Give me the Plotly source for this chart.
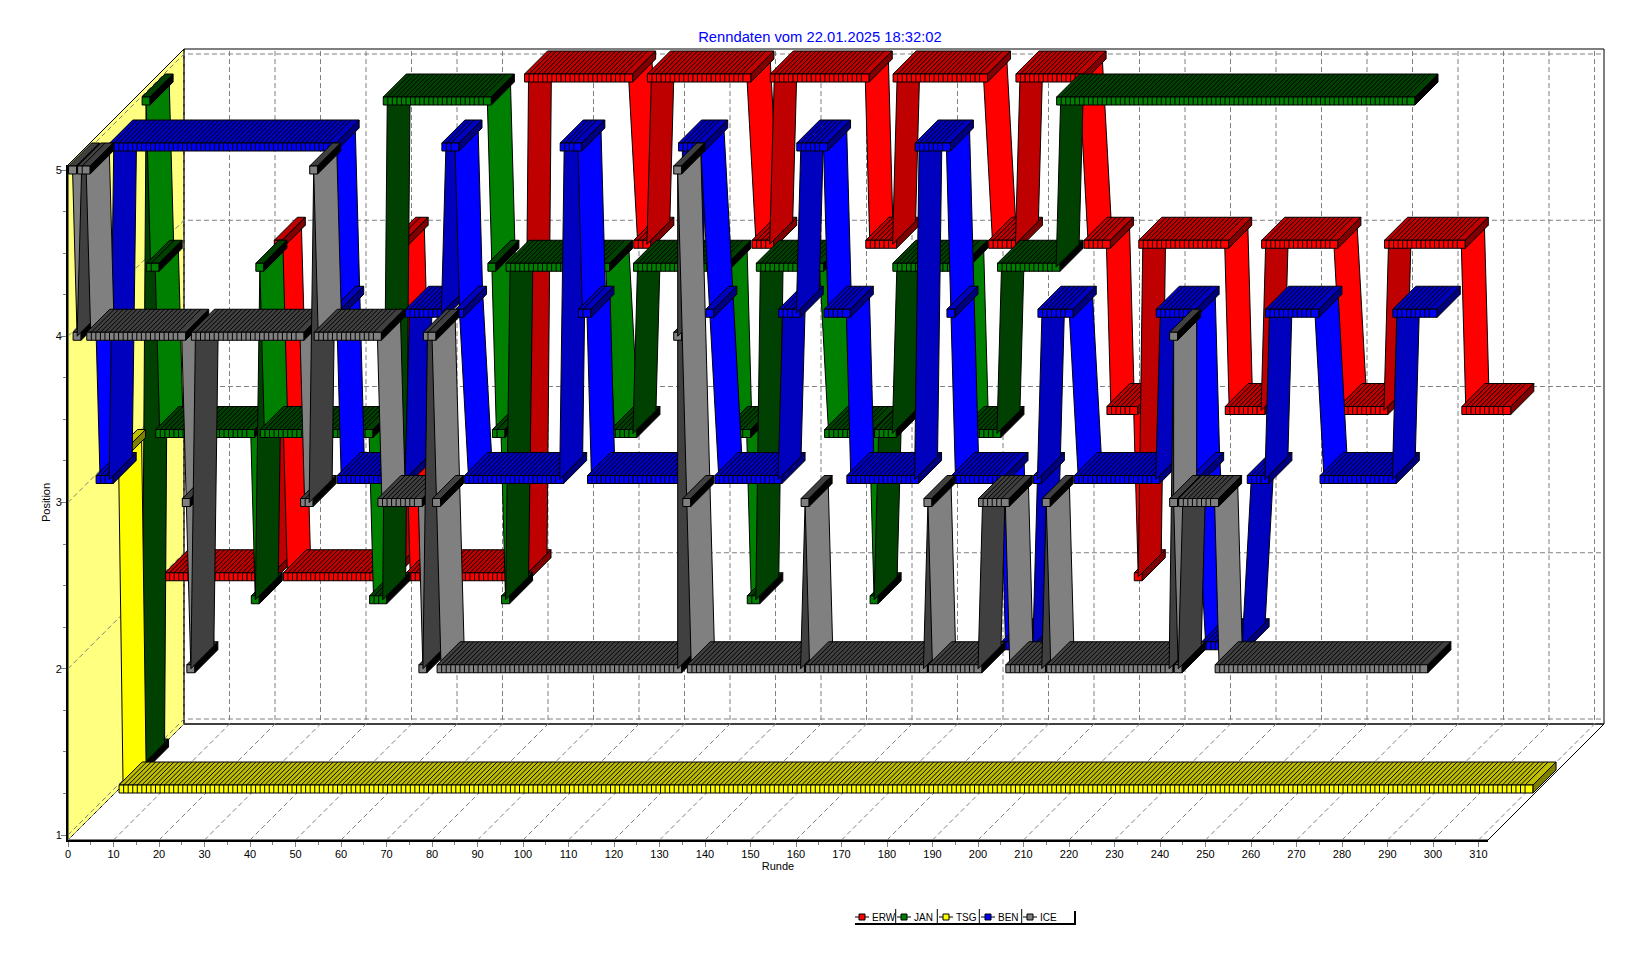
import plotly.graph_objects as go

# ---------- data: each run is (first lap, last lap, position) ----------
ERW_FROM = [2, 25, 26, 28, 51, 52, 55, 81, 105, 108, 131, 135, 156, 162, 183, 189, 204, 209, 215, 216, 235, 243, 260, 270, 287]
ERW_TO   = [24, 25, 26, 50, 51, 53, 80, 103, 107, 129, 134, 155, 161, 181, 188, 202, 208, 214, 215, 234, 242, 258, 269, 286, 296]
ERW_POS  = [2, 3, 4, 2, 3, 4, 2, 5, 4, 5, 4, 5, 4, 5, 4, 5, 4, 3, 2, 4, 3, 4, 3, 4, 3]

JAN_FROM = [1, 2, 3, 5, 26, 27, 28, 52, 55, 78, 79, 81, 82, 105, 110, 130, 135, 137, 152, 162, 163, 167, 182, 190, 203]
JAN_TO   = [1, 2, 4, 25, 26, 27, 51, 54, 77, 78, 80, 81, 103, 109, 129, 134, 136, 150, 161, 162, 166, 181, 189, 202, 280]
JAN_POS  = [1, 5, 4, 3, 2, 4, 3, 2, 5, 4, 3, 2, 4, 3, 4, 3, 2, 4, 3, 2, 3, 4, 3, 4, 5]

TSG_FROM = [1, 2]
TSG_TO   = [1, 311]
TSG_POS  = [3, 1]

BEN_FROM = [1, 2, 5, 54, 55, 70, 78, 81, 83, 104, 108, 110, 130, 136, 138, 152, 156, 162, 167, 182, 189, 190, 201, 208, 209, 217, 235, 243, 245, 255, 259, 271, 287]
BEN_TO   = [1, 4, 53, 54, 69, 77, 80, 81, 103, 107, 109, 129, 134, 136, 151, 155, 161, 166, 181, 188, 189, 200, 207, 208, 215, 234, 242, 243, 253, 258, 269, 286, 295]
BEN_POS  = [4, 3, 5, 4, 3, 4, 5, 4, 3, 5, 4, 3, 5, 4, 3, 4, 5, 4, 3, 5, 4, 3, 2, 3, 4, 3, 4, 3, 2, 3, 4, 3, 4]

ICE_FROM = [1, 2, 3, 5, 26, 27, 28, 52, 54, 55, 69, 78, 79, 81, 82, 134, 134, 136, 137, 162, 163, 189, 190, 201, 207, 215, 216, 243, 243, 244, 245, 253]
ICE_TO   = [1, 2, 4, 25, 26, 27, 51, 53, 54, 68, 77, 78, 80, 81, 134, 134, 134, 136, 161, 162, 188, 189, 200, 206, 214, 215, 242, 243, 243, 244, 252, 298]
ICE_POS  = [5, 4, 5, 4, 3, 2, 4, 3, 5, 4, 3, 2, 4, 3, 2, 4, 5, 3, 2, 3, 2, 3, 2, 3, 2, 3, 2, 4, 3, 2, 3, 2]

SERIES_NAMES = ["ERW", "JAN", "TSG", "BEN", "ICE"]
TITLE = "Renndaten vom 22.01.2025 18:32:02"
X_TITLE = "Runde"
Y_TITLE = "Position"

# ---------- styling ----------
SERIES = {
    "ERW": (ERW_FROM, ERW_TO, ERW_POS, (255, 0, 0), 92),
    "JAN": (JAN_FROM, JAN_TO, JAN_POS, (0, 128, 0), 69),
    "TSG": (TSG_FROM, TSG_TO, TSG_POS, (255, 255, 0), 46),
    "BEN": (BEN_FROM, BEN_TO, BEN_POS, (0, 0, 255), 23),
    "ICE": (ICE_FROM, ICE_TO, ICE_POS, (128, 128, 128), 0),
}
PX_LAP, PX_POS = 4.55, 166.25       # pixels per lap / per position
WALL_DEPTH = 116                    # oblique depth of the box, px
SLOT = 23                           # depth of a ribbon, px
HALF = 4                            # half size of a point marker, px
W, H = 1640, 955
ML, MT, MB = 68, 40, 115            # margins of the whole drawing area
MR = 30
AREA_W, AREA_H = W - ML - MR, H - MT - MB
FRONT_W, FRONT_H = 1420, 675        # size of the front plane holding the visible axes
X_MAX = FRONT_W / PX_LAP
Y_MIN = 1 - 5 / PX_POS
Y_MAX = Y_MIN + FRONT_H / PX_POS
GRID = "#808080"


def shade(rgb, amount):
    return "rgb(%d,%d,%d)" % tuple(max(c - amount, 0) for c in rgb)


def pt(lap, pos, off=0, dx=0, dy=0):
    """Data coordinates of a value, moved by depth `off` and by dx/dy screen pixels."""
    return lap + (off + dx) / PX_LAP, pos + (off - dy) / PX_POS


def poly(points):
    xs = [p[0] for p in points] + [points[0][0]]
    ys = [p[1] for p in points] + [points[0][1]]
    return xs, ys


def fill_trace(xs, ys, color, name, lw=1.0):
    return go.Scatter(x=xs, y=ys, xaxis="x2", yaxis="y2", mode="lines", fill="toself", fillcolor=color,
                      line=dict(color="#000000", width=lw), name=name,
                      showlegend=False, hoverinfo="skip")


def line_trace(xs, ys, color="#000000", width=1.0, dash="solid", name=""):
    return go.Scatter(x=xs, y=ys, xaxis="x2", yaxis="y2", mode="lines",
                      line=dict(color=color, width=width, dash=dash),
                      name=name, showlegend=False, hoverinfo="skip", connectgaps=False)


# the visible axes need a trace of their own to be laid out
traces = [go.Scatter(x=[0], y=[1], mode="lines", showlegend=False, hoverinfo="skip")]

# ---------- walls ----------
d = WALL_DEPTH
wx, wy = poly([pt(0, Y_MIN), pt(0, Y_MIN, d), pt(0, Y_MAX, d), pt(0, Y_MAX)])
traces.append(fill_trace(wx, wy, "#FFFF80", "wall"))
fx, fy = poly([pt(0, Y_MIN, d), pt(X_MAX, Y_MIN, d), pt(X_MAX, Y_MAX, d), pt(0, Y_MAX, d)])
traces.append(line_trace(fx, fy, name="back"))
flx, fly = poly([pt(0, Y_MIN), pt(X_MAX, Y_MIN), pt(X_MAX, Y_MIN, d), pt(0, Y_MIN, d)])
traces.append(line_trace(flx, fly, name="floor"))

# ---------- dashed grid on the walls ----------
gx, gy = [], []
for lap in range(0, 311, 10):
    a, b, c = pt(lap, Y_MIN), pt(lap, Y_MIN, d), pt(lap, Y_MAX, d)
    gx += [a[0], b[0], c[0], None]
    gy += [a[1], b[1], c[1], None]
for p in range(1, 6):
    a, b, c = pt(0, p), pt(0, p, d), pt(X_MAX, p, d)
    gx += [a[0], b[0], c[0], None]
    gy += [a[1], b[1], c[1], None]
traces.append(line_trace(gx, gy, GRID, 1, "5px,3px", "grid"))


# ---------- series, back to front ----------
def add_series(name):
    first, last, pos, rgb, off = SERIES[name]
    base, top_c, side_c = shade(rgb, 0), shade(rgb, 64), shade(rgb, 128)
    n = len(pos)
    for i in range(n):
        a, b, p = first[i], last[i], pos[i]
        ribbon = None
        if i < n - 1 and pos[i + 1] != p:
            ribbon = poly([pt(b, p, off), pt(first[i + 1], pos[i + 1], off),
                           pt(first[i + 1], pos[i + 1], off + SLOT), pt(b, p, off + SLOT)])
        # a falling ribbon lies under this point's marker
        if ribbon and pos[i + 1] < p:
            traces.append(fill_trace(ribbon[0], ribbon[1], base, name))
        # top face
        q = poly([pt(a, p, off, -HALF, -HALF), pt(b, p, off, HALF, -HALF),
                  pt(b, p, off + SLOT, HALF, -HALF), pt(a, p, off + SLOT, -HALF, -HALF)])
        traces.append(fill_trace(q[0], q[1], top_c, name))
        # front face
        q = poly([pt(a, p, off, -HALF, -HALF), pt(b, p, off, HALF, -HALF),
                  pt(b, p, off, HALF, HALF), pt(a, p, off, -HALF, HALF)])
        traces.append(fill_trace(q[0], q[1], base, name))
        # end face
        q = poly([pt(b, p, off, HALF, -HALF), pt(b, p, off, HALF, HALF),
                  pt(b, p, off + SLOT, HALF, HALF), pt(b, p, off + SLOT, HALF, -HALF)])
        traces.append(fill_trace(q[0], q[1], side_c, name))
        # one divider per lap on the top and the front of a plateau
        if b > a:
            lx, ly = [], []
            for lap in range(a + 1, b + 1):
                s1 = pt(lap, p, off, -HALF, HALF)
                s2 = pt(lap, p, off, -HALF, -HALF)
                s3 = pt(lap, p, off + SLOT, -HALF, -HALF)
                lx += [s1[0], s2[0], s3[0], None]
                ly += [s1[1], s2[1], s3[1], None]
            traces.append(line_trace(lx, ly, "#000000", 1, "solid", name))
        # a rising ribbon lies over this marker's top, under the next marker
        if ribbon and pos[i + 1] > p:
            traces.append(fill_trace(ribbon[0], ribbon[1], top_c, name))


for nm in SERIES_NAMES:
    add_series(nm)

fig = go.Figure(traces)

FONT = "Liberation Sans, Arial, sans-serif"


def px(x):
    return (x - ML) / AREA_W


def py(y):
    return (H - MB - y) / AREA_H


# ---------- legend, drawn as in the original strip ----------
shapes = []
annotations = []
LEG_X = [862, 904, 946, 988, 1030]
LEG_SEP = [895.7, 937.3, 979.3, 1021.7]
LEG_Y = 917
for i, nm in enumerate(SERIES_NAMES):
    mx = LEG_X[i]
    shapes.append(dict(type="line", xref="paper", yref="paper", x0=px(mx - 7), x1=px(mx + 7),
                       y0=py(LEG_Y), y1=py(LEG_Y), line=dict(color="#000000", width=1)))
    shapes.append(dict(type="rect", xref="paper", yref="paper", x0=px(mx - 3), x1=px(mx + 3),
                       y0=py(LEG_Y - 3), y1=py(LEG_Y + 3), fillcolor=shade(SERIES[nm][3], 0),
                       line=dict(color="#000000", width=1)))
    annotations.append(dict(text=nm, xref="paper", yref="paper", x=px(mx + 8), y=py(LEG_Y),
                            xanchor="left", yanchor="middle", showarrow=False,
                            font=dict(family=FONT, size=10, color="#000000")))
for sx in LEG_SEP:
    shapes.append(dict(type="line", xref="paper", yref="paper", x0=px(sx), x1=px(sx),
                       y0=py(909), y1=py(924), line=dict(color="#000000", width=1)))
shapes.append(dict(type="line", xref="paper", yref="paper", x0=px(855), x1=px(1076),
                   y0=py(924), y1=py(924), line=dict(color="#000000", width=2)))
shapes.append(dict(type="line", xref="paper", yref="paper", x0=px(1075), x1=px(1075),
                   y0=py(911), y1=py(925), line=dict(color="#000000", width=2)))

fig.update_layout(
    width=W, height=H,
    margin=dict(l=ML, r=MR, t=MT, b=MB, pad=0),
    paper_bgcolor="#FFFFFF", plot_bgcolor="rgba(0,0,0,0)",
    showlegend=False,
    hovermode=False,
    title=dict(text=TITLE, x=820 / W, xanchor="center", y=1 - 37 / H, yanchor="middle",
               font=dict(family=FONT, size=14.75, color="#0000FF")),
    font=dict(family=FONT, size=11, color="#000000"),
    xaxis=dict(domain=[0, FRONT_W / AREA_W], anchor="y", range=[0, X_MAX],
               tickmode="linear", tick0=0, dtick=10,
               ticks="outside", ticklen=5, tickcolor=GRID, tickwidth=1, ticklabelstandoff=-2,
               minor=dict(tick0=0, dtick=5, ticks="outside", ticklen=3, tickcolor=GRID),
               showgrid=False, zeroline=False, showline=True, linecolor="#000000", linewidth=2,
               title=dict(text=X_TITLE, standoff=3, font=dict(size=11)),
               tickfont=dict(size=11), automargin=False, fixedrange=True),
    yaxis=dict(domain=[0, FRONT_H / AREA_H], anchor="x", range=[Y_MIN, Y_MAX],
               tickmode="linear", tick0=1, dtick=1,
               ticks="outside", ticklen=5, tickcolor=GRID, tickwidth=1, ticklabelstandoff=-3,
               minor=dict(tick0=1, dtick=0.25, ticks="outside", ticklen=3, tickcolor=GRID),
               showgrid=False, zeroline=False, showline=True, linecolor="#000000", linewidth=2,
               title=dict(text=Y_TITLE, standoff=3, font=dict(size=11)),
               tickfont=dict(size=11), automargin=False, fixedrange=True),
    xaxis2=dict(domain=[0, 1], anchor="y2", range=[0, AREA_W / PX_LAP], visible=False, fixedrange=True),
    yaxis2=dict(domain=[0, 1], anchor="x2", range=[Y_MIN, Y_MIN + AREA_H / PX_POS], visible=False,
                fixedrange=True),
    shapes=shapes, annotations=annotations,
)

fig.write_html("out.html", config=dict(displayModeBar=False, responsive=False),
               post_script="document.body.style.margin='0';document.body.style.overflow='hidden';")
